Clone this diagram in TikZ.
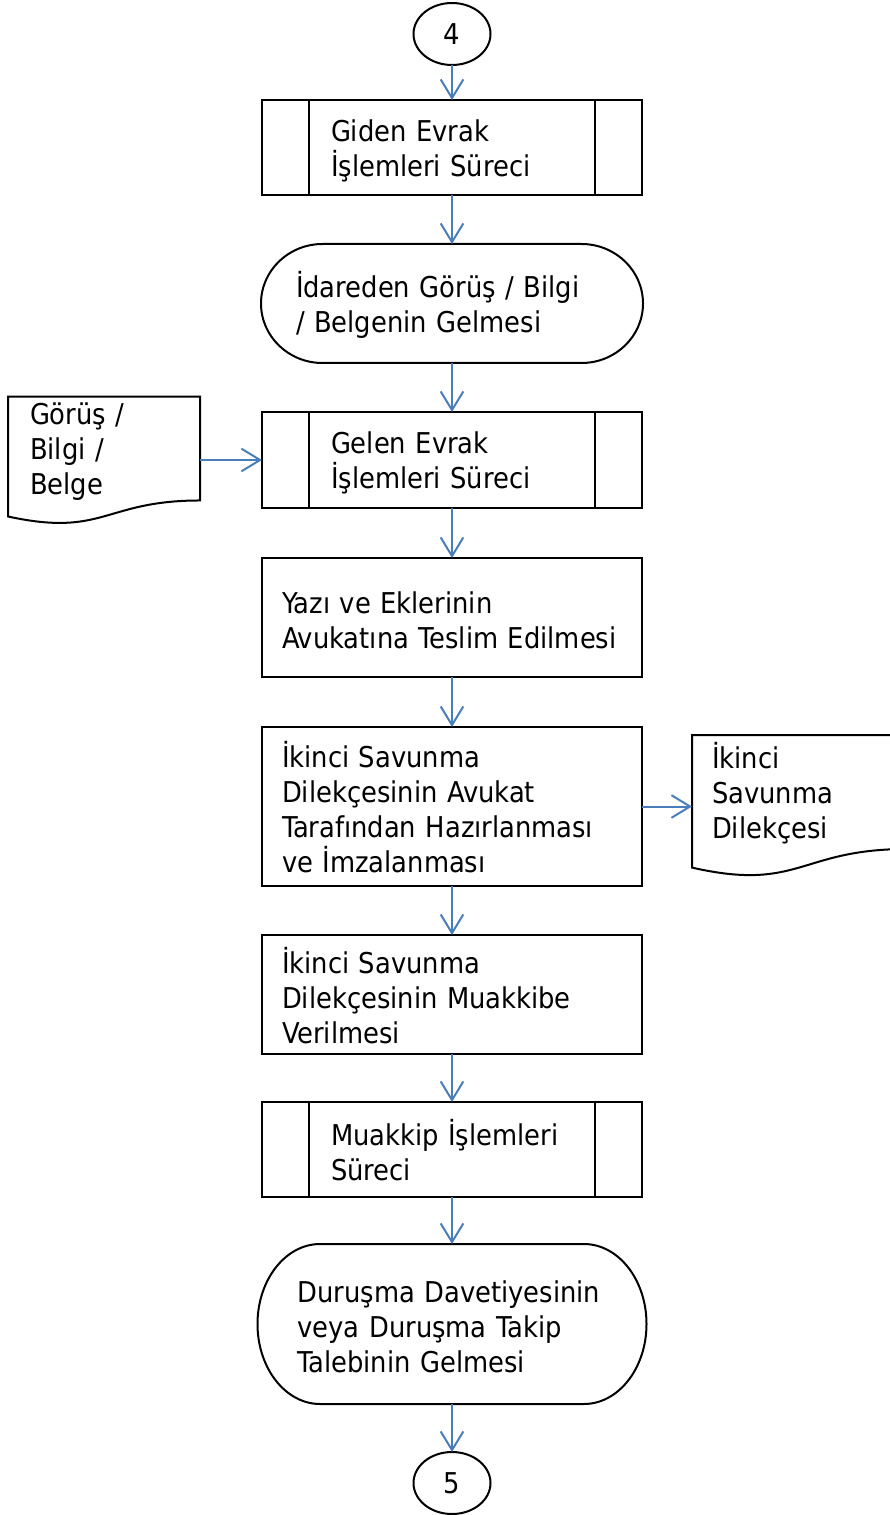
\documentclass[tikz,border=0pt]{standalone}
\usepackage{fontspec}
\IfFontExistsTF{DejaVu Sans Condensed}{\setmainfont{DejaVu Sans Condensed}}{\setmainfont{DejaVu Sans}}
\usepackage{tikz}
\usetikzlibrary{shapes.geometric, arrows.meta, calc}
\definecolor{arrowblue}{RGB}{74, 126, 187}
\newcommand{\pxu}{0.75pt}

\begin{document}
\begin{tikzpicture}[x=0.75pt, y=-0.75pt, line width=1.5pt,
    every node/.style={font=\fontsize{21.5}{26.25}\selectfont},
    box/.style={draw, rectangle, minimum width=380*\pxu, align=left, inner sep=0pt, outer sep=0pt,
      execute at begin node={\rule{0pt}{21pt}}},
    term/.style={rectangle, align=left, inner sep=0pt, outer sep=0pt,
      execute at begin node={\rule{0pt}{21pt}}},
    doc/.style={rectangle, align=left, inner sep=0pt, outer sep=0pt,
      execute at begin node={\rule{0pt}{21pt}}},
    conn/.style={draw, ellipse, minimum width=77*\pxu, minimum height=62*\pxu, inner sep=0pt, outer sep=0pt},
    arr/.style={draw=arrowblue, line width=1.5pt, -{Straight Barb[length=14pt, width=17pt]}}]
  \useasboundingbox (0,0) rectangle (889,1515);

  % main column
  \node[conn] (c4) at (452,34) {4};
  \node[box, minimum height=95*\pxu, text width=242*\pxu] (g1) at (452,147.5) {Giden Evrak\\İşlemleri Süreci};
  \node[term, minimum width=382*\pxu, minimum height=119*\pxu, text width=312*\pxu] (t2) at (452,303.5) {İdareden Görüş / Bilgi\\/ Belgenin Gelmesi};
  \node[box, minimum height=96*\pxu, text width=242*\pxu] (g2) at (452,460) {Gelen Evrak\\İşlemleri Süreci};
  \node[box, minimum height=119*\pxu, text width=340*\pxu] (y4) at (452,617.5) {Yazı ve Eklerinin\\Avukatına Teslim Edilmesi};
  \node[box, minimum height=159*\pxu, text width=340*\pxu] (i5) at (452,806.5) {İkinci Savunma\\Dilekçesinin Avukat\\Tarafından Hazırlanması\\ve İmzalanması};
  \node[box, minimum height=119*\pxu, text width=340*\pxu] (i6) at (452,994.5) {İkinci Savunma\\Dilekçesinin Muakkibe\\Verilmesi};
  \node[box, minimum height=95*\pxu, text width=242*\pxu] (m7) at (452,1149.5) {Muakkip İşlemleri\\Süreci};
  \node[term, minimum width=389*\pxu, minimum height=160*\pxu, text width=309*\pxu] (t8) at (452,1324) {Duruşma Davetiyesinin\\veya Duruşma Takip\\Talebinin Gelmesi};
  \node[conn] (c5) at (452,1483) {5};

  % documents
  \node[doc, minimum width=192*\pxu, minimum height=97*\pxu, text width=148*\pxu] (d1) at (104,448.5) {Görüş /\\Bilgi /\\Belge};
  \node[doc, minimum width=215*\pxu, minimum height=114*\pxu, text width=175*\pxu] (d2) at (799.5,792) {İkinci\\Savunma\\Dilekçesi};
  \draw (d1.north west) -- (d1.north east) -- (d1.south east)
    .. controls (d1.south) and ($(d1.south)+(0,37)$) .. ($(d1.south west)+(0,16)$) -- cycle;
  \draw (d2.north west) -- (d2.north east) -- (d2.south east)
    .. controls (d2.south) and ($(d2.south)+(0,43)$) .. ($(d2.south west)+(0,18.6)$) -- cycle;

  % sub-process side bars
  \foreach \n in {g1, g2, m7} {
    \draw ([xshift=47*\pxu]\n.north west) -- ([xshift=47*\pxu]\n.south west);
    \draw ([xshift=-47*\pxu]\n.north east) -- ([xshift=-47*\pxu]\n.south east);
  }

  % terminator outlines
  \foreach \n/\rx/\ry in {t2/61.5/59.5, t8/62.6/80} {
    \draw ([xshift=\rx*\pxu]\n.north west) -- ([xshift=-\rx*\pxu]\n.north east)
      arc[start angle=90, end angle=-90, x radius=\rx*\pxu, y radius=\ry*\pxu]
      -- ([xshift=\rx*\pxu]\n.south west)
      arc[start angle=270, end angle=90, x radius=\rx*\pxu, y radius=\ry*\pxu] -- cycle;
  }

  % connectors
  \draw[arr] (c4) -- (g1);
  \draw[arr] (g1) -- (t2);
  \draw[arr] (t2) -- (g2);
  \draw[arr] (d1.east |- g2) -- (g2);
  \draw[arr] (g2) -- (y4);
  \draw[arr] (y4) -- (i5);
  \draw[arr] (i5) -- (i5 -| d2.west);
  \draw[arr] (i5) -- (i6);
  \draw[arr] (i6) -- (m7);
  \draw[arr] (m7) -- (t8);
  \draw[arr] (t8) -- (c5);
\end{tikzpicture}
\end{document}
